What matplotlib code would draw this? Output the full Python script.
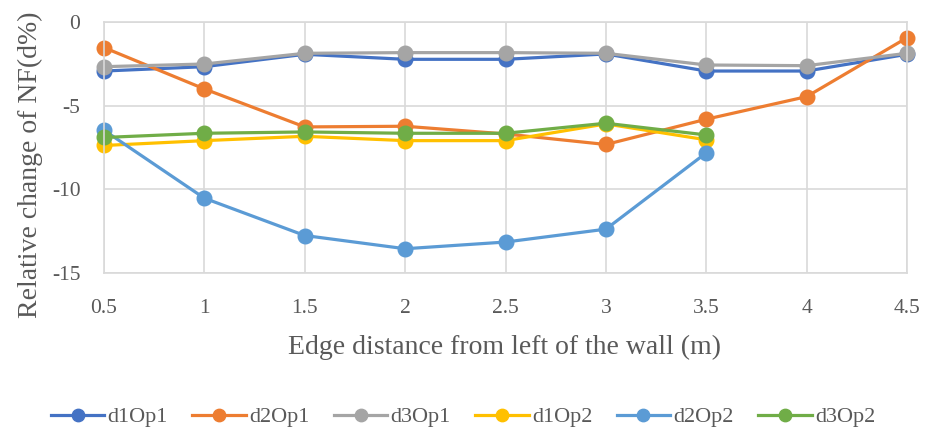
import matplotlib.pyplot as plt

plt.rcParams['font.family'] = ['Liberation Serif', 'DejaVu Serif']
plt.rcParams['axes.unicode_minus'] = False

x = [0.5, 1, 1.5, 2, 2.5, 3, 3.5, 4, 4.5]
d1Op1 = [-2.93, -2.67, -1.93, -2.23, -2.23, -1.91, -2.93, -2.93, -1.93]
d2Op1 = [-1.53, -4.0, -6.27, -6.23, -6.69, -7.32, -5.81, -4.46, -0.94]
d3Op1 = [-2.67, -2.51, -1.87, -1.83, -1.83, -1.87, -2.57, -2.61, -1.87]
d1Op2 = [-7.38, -7.09, -6.83, -7.09, -7.09, -6.09, -7.04]
d2Op2 = [-6.47, -10.53, -12.76, -13.55, -13.15, -12.38, -7.82]
d3Op2 = [-6.9, -6.65, -6.57, -6.65, -6.65, -6.05, -6.75]

series = [
    ('d1Op1', d1Op1, '#4472C4'),
    ('d2Op1', d2Op1, '#ED7D31'),
    ('d3Op1', d3Op1, '#A5A5A5'),
    ('d1Op2', d1Op2, '#FFC000'),
    ('d2Op2', d2Op2, '#5B9BD5'),
    ('d3Op2', d3Op2, '#70AD47'),
]

fig = plt.figure(figsize=(9.26, 4.29), dpi=100)
ax = fig.add_axes([104/926, 1 - 273/429, (907 - 104)/926, (273 - 22)/429])

for name, vals, col in series:
    ax.plot(x[:len(vals)], vals, color=col, lw=2.3, marker='o', ms=10.5,
            label=name, clip_on=False)

ax.set_xlim(0.5, 4.5)
ax.set_ylim(-15, 0)
ax.set_xticks(x)
ax.set_xticklabels(['0.5', '1', '1.5', '2', '2.5', '3', '3.5', '4', '4.5'])
ax.set_yticks([0, -5, -10, -15])
ax.grid(True, color='#D9D9D9', lw=1.2)
ax.set_axisbelow(True)
for s in ax.spines.values():
    s.set_color('#D9D9D9')
    s.set_linewidth(1.2)
ax.tick_params(length=0, labelsize=15.5, colors='#595959')
ax.tick_params(axis='x', pad=19)
ax.tick_params(axis='y', pad=17)

ax.set_xlabel('Edge distance from left of the wall (m)', fontsize=20,
              color='#595959')
ax.xaxis.set_label_coords((505 - 104) / 803, -(347 - 273) / 251, transform=ax.transAxes)
ax.xaxis.label.set_va('center')
ax.set_ylabel('Relative change of NF(d%)', fontsize=20, color='#595959')
ax.yaxis.set_label_coords(-(104 - 30) / 803, 1 - (165 - 22) / 251, transform=ax.transAxes)
ax.yaxis.label.set_va('center')

fig.legend(loc='center', ncol=6, frameon=False, fontsize=16,
           bbox_to_anchor=(0.5, 1 - 417/429), handlelength=2.4, handletextpad=0.15,
           columnspacing=1.1, labelcolor='#595959', markerscale=0.85,
           borderaxespad=0)

fig.savefig('out.png', dpi=100)
